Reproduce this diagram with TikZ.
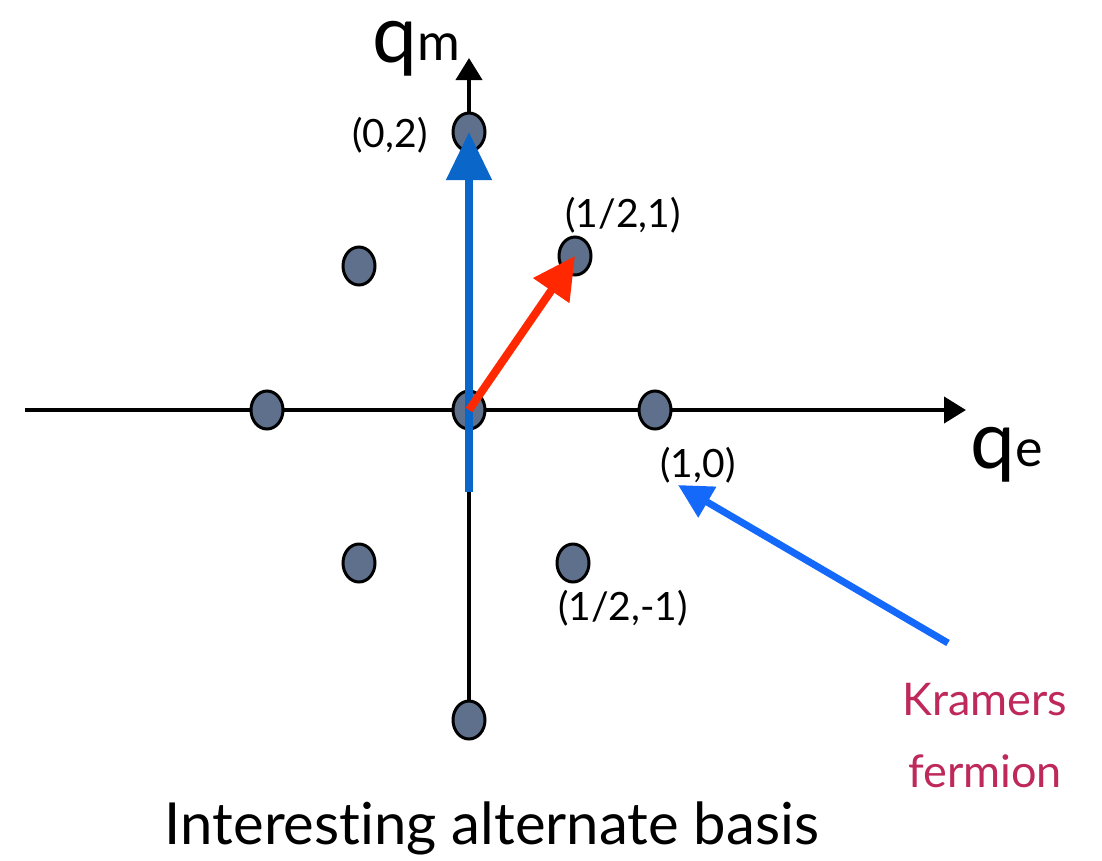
\documentclass[tikz,border=0pt]{standalone}
\usepackage{fontspec}
\setmainfont{Lato}[Ligatures=NoCommon]
\usetikzlibrary{arrows.meta,shapes.geometric}
\definecolor{dotfill}{RGB}{95,112,140}
\definecolor{vecblue}{RGB}{10,102,200}
\definecolor{kblue}{RGB}{20,105,250}
\definecolor{vecred}{RGB}{255,40,0}
\definecolor{kram}{RGB}{190,40,90}
\tikzset{
  lat/.style={ellipse, draw=black, line width=3pt, fill=dotfill, minimum width=32pt, minimum height=38pt, inner sep=0pt},
  axis/.style={line width=4pt, -{Triangle[length=22pt,width=26pt]}},
  lbl/.style={font=\fontsize{39}{46}\selectfont, inner sep=0pt},
}
\begin{document}
\begin{tikzpicture}[x=1pt,y=-1pt]
\useasboundingbox (0,0) rectangle (1102,860);
% axes
\coordinate (xl) at (25,410);
\coordinate (xr) at (966,410);
\coordinate (yb) at (469,735);
\coordinate (yt) at (469,58);
\draw[axis] (xl) -- (xr);
\draw[axis] (yb) -- (yt);
% lattice points
\node[lat] (p02) at (469,132) {};
\node[lat] (pm) at (359,266) {};
\node[lat] (p121) at (575,256) {};
\node[lat] (pl) at (267,410) {};
\node[lat] (o) at (469,410) {};
\node[lat] (p10) at (655,410) {};
\node[lat] (pbl) at (359,563) {};
\node[lat] (p12m) at (573,563) {};
\node[lat] (pb) at (469,720) {};
% vectors
\coordinate (bstart) at (469,492);
\draw[vecblue, line width=8pt, -{Triangle[length=48pt,width=44pt]}] (bstart) -- (p02.center);
\draw[vecred, line width=8pt, -{Triangle[length=42pt,width=42pt]}] (o.center) -- (p121.center);
% labels
\node[lbl] (l02) at (390,135) {(0,2)};
\node[lbl] (l121) at (623,215) {(1/2,1)};
\node[lbl] (l10) at (698,465) {(1,0)};
\node[lbl] (l12m) at (623,608) {(1/2,-1)};
\node[inner sep=0pt, anchor=base west] (qm) at (372,62) {\fontsize{80}{90}\selectfont q\raisebox{2pt}{\fontsize{52}{60}\selectfont m}};
\node[inner sep=0pt, anchor=base west] (qe) at (970,468) {\fontsize{80}{90}\selectfont q\raisebox{2pt}{\fontsize{52}{60}\selectfont e}};
\node[lbl, text=kram, font=\fontsize{45}{72}\selectfont, align=center] (kr) at (985,736) {Kramers\\fermion};
\coordinate (kstart) at (948,643);
\draw[kblue, line width=7pt, -{Triangle[length=34pt,width=34pt]}] (kstart) -- (678,485);
\node[inner sep=0pt, font=\fontsize{58}{66}\selectfont] (title) at (492,828) {Interes\kern0pt ting alternate basis};
\end{tikzpicture}
\end{document}
